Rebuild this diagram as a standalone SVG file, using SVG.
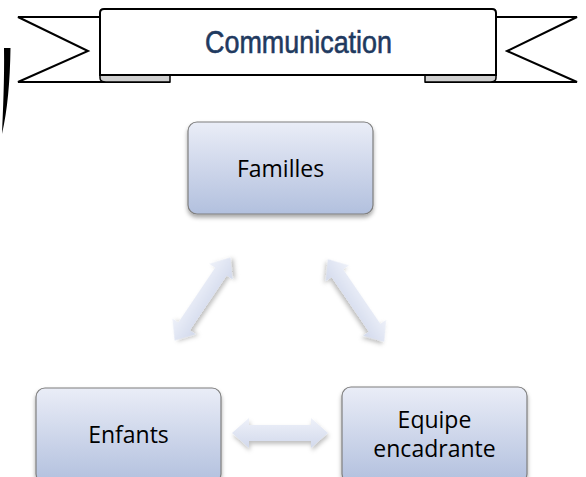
<svg xmlns="http://www.w3.org/2000/svg" width="586" height="477" viewBox="0 0 586 477">
  <defs>
    <linearGradient id="boxGrad" x1="0" y1="0" x2="0" y2="1">
      <stop offset="0" stop-color="#eaedf7"/>
      <stop offset="1" stop-color="#b2c0de"/>
    </linearGradient>
    <linearGradient id="arrowGrad" x1="0" y1="0" x2="0" y2="1">
      <stop offset="0" stop-color="#eef1f9"/>
      <stop offset="1" stop-color="#d2d9ec"/>
    </linearGradient>
    <filter id="shadow" x="-20%" y="-20%" width="140%" height="150%">
      <feDropShadow dx="0" dy="3" stdDeviation="2" flood-color="#000" flood-opacity="0.35"/>
    </filter>
    <filter id="ashadow" x="-30%" y="-30%" width="160%" height="160%">
      <feDropShadow dx="1" dy="3" stdDeviation="2" flood-color="#000" flood-opacity="0.25"/>
    </filter>
    <polygon id="arr96" points="-48,0 -31,-15 -31,-8 31,-8 31,-15 48,0 31,15 31,8 -31,8 -31,15"/>
    <polygon id="arr100" points="-50,0 -33,-14 -33,-7 33,-7 33,-14 50,0 33,14 33,7 -33,7 -33,14"/>
  </defs>
  <style>
    .box { fill: url(#boxGrad); stroke: #7f7f7f; stroke-width: 1.2; filter: url(#shadow); }
    .lbl { font-family: "Open Sans", "Liberation Sans", sans-serif; font-size: 23px; fill: #000; text-anchor: middle; }
    .arrow { fill: url(#arrowGrad); filter: url(#ashadow); }
    .ban { fill: #fff; stroke: #000; stroke-width: 2; stroke-linejoin: miter; }
    .fold { fill: #cfcfcf; stroke: #000; stroke-width: 1.5; }
  </style>

  <!-- left curved stroke -->
  <path d="M4,48 L10.5,48 C10,82 7.5,110 2,134 C3,110 4.5,80 4,48 Z" fill="#000"/>

  <!-- banner -->
  <g id="banner">
    <polyline class="ban" points="100,17 18,17 88,51 18,82 170,82" fill="none"/>
    <polyline class="ban" points="496,17 577,17 507,51 577,82 425,82" fill="none"/>
    <path class="fold" d="M100,75 L170,75 L170,82 L106,82 Q100,82 100,78 Z"/>
    <path class="fold" d="M425,75 L496,75 L496,78 Q496,82 490,82 L425,82 Z"/>
    <path class="ban" d="M104,9 L492,9 Q496,9 496,13 L496,75 L100,75 L100,13 Q100,9 104,9 Z"/>
    <text x="298.5" y="53" font-family="Liberation Sans, Arial, sans-serif" font-size="31" fill="#1f3a60" stroke="#1f3a60" stroke-width="0.6" text-anchor="middle" textLength="187" lengthAdjust="spacingAndGlyphs">Communication</text>
  </g>

  <!-- connectors -->
  <g id="connectors">
    <use href="#arr100" class="arrow" transform="translate(202.5,299) rotate(-56.1)"/>
    <use href="#arr100" class="arrow" transform="translate(356,300.5) rotate(55.7)"/>
    <use href="#arr96" class="arrow" transform="translate(280,433)"/>
  </g>

  <!-- nodes -->
  <g id="familles">
    <rect class="box" x="188" y="122" width="185" height="92" rx="9"/>
    <text class="lbl" x="280.5" y="177">Familles</text>
  </g>
  <g id="enfants">
    <rect class="box" x="36" y="388" width="185" height="95" rx="9"/>
    <text class="lbl" x="128.5" y="443">Enfants</text>
  </g>
  <g id="equipe">
    <rect class="box" x="342" y="387" width="185" height="96" rx="9"/>
    <text class="lbl" x="434.5" y="428">Equipe</text>
    <text class="lbl" x="434.5" y="457">encadrante</text>
  </g>
</svg>
